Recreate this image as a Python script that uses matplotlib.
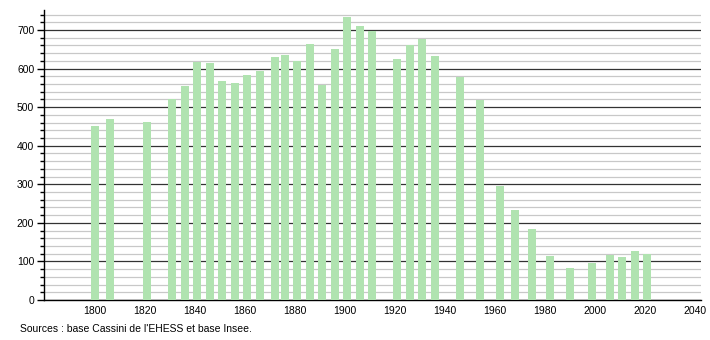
import matplotlib.pyplot as plt
from matplotlib.ticker import MultipleLocator

plt.rcParams['font.family'] = ['Liberation Sans', 'DejaVu Sans']

# Population by census year
years = [1800, 1806, 1821, 1831, 1836, 1841, 1846, 1851, 1856, 1861, 1866,
         1872, 1876, 1881, 1886, 1891, 1896, 1901, 1906, 1911, 1921, 1926,
         1931, 1936, 1946, 1954, 1962, 1968, 1975, 1982, 1990, 1999, 2006,
         2011, 2016, 2021]
population = [451, 470, 461, 522, 555, 618, 615, 569, 563, 583, 595,
              631, 636, 620, 665, 557, 651, 735, 711, 698, 625, 662,
              676, 634, 578, 519, 296, 233, 184, 114, 83, 97, 117,
              111, 127, 119]
xticks = list(range(1800, 2041, 20))

fig = plt.figure(figsize=(7.1, 3.4), dpi=100)
ax = fig.add_axes([44 / 710, 40 / 340, 657 / 710, 290 / 340])

# grid: light every 20, dark every 100
ax.yaxis.set_major_locator(MultipleLocator(100))
ax.yaxis.set_minor_locator(MultipleLocator(20))
ax.grid(which='minor', axis='y', color='#c8c8c8', linewidth=0.9)
ax.grid(which='major', axis='y', color='#333333', linewidth=0.9)
ax.set_axisbelow(True)

ax.bar(years, population, width=3.2, color='#b0e3b0', zorder=3)

ax.set_xlim(1779.6, 2042.5)
ax.set_ylim(0, 752)
ax.set_xticks(xticks)

for side in ('top', 'right'):
    ax.spines[side].set_visible(False)
ax.spines['left'].set_linewidth(1.0)
ax.spines['bottom'].set_linewidth(1.0)

ax.tick_params(axis='x', length=0, labelsize=7.5, pad=4)
ax.tick_params(axis='y', which='major', length=5, width=1, labelsize=7.5, pad=2)
ax.tick_params(axis='y', which='minor', length=3, width=1)

fig.text(20 / 710, 1 - 329 / 340, "Sources : base Cassini de l'EHESS et base Insee.",
         fontsize=7.5, va='center', ha='left')

fig.savefig('out.png', dpi=100)
